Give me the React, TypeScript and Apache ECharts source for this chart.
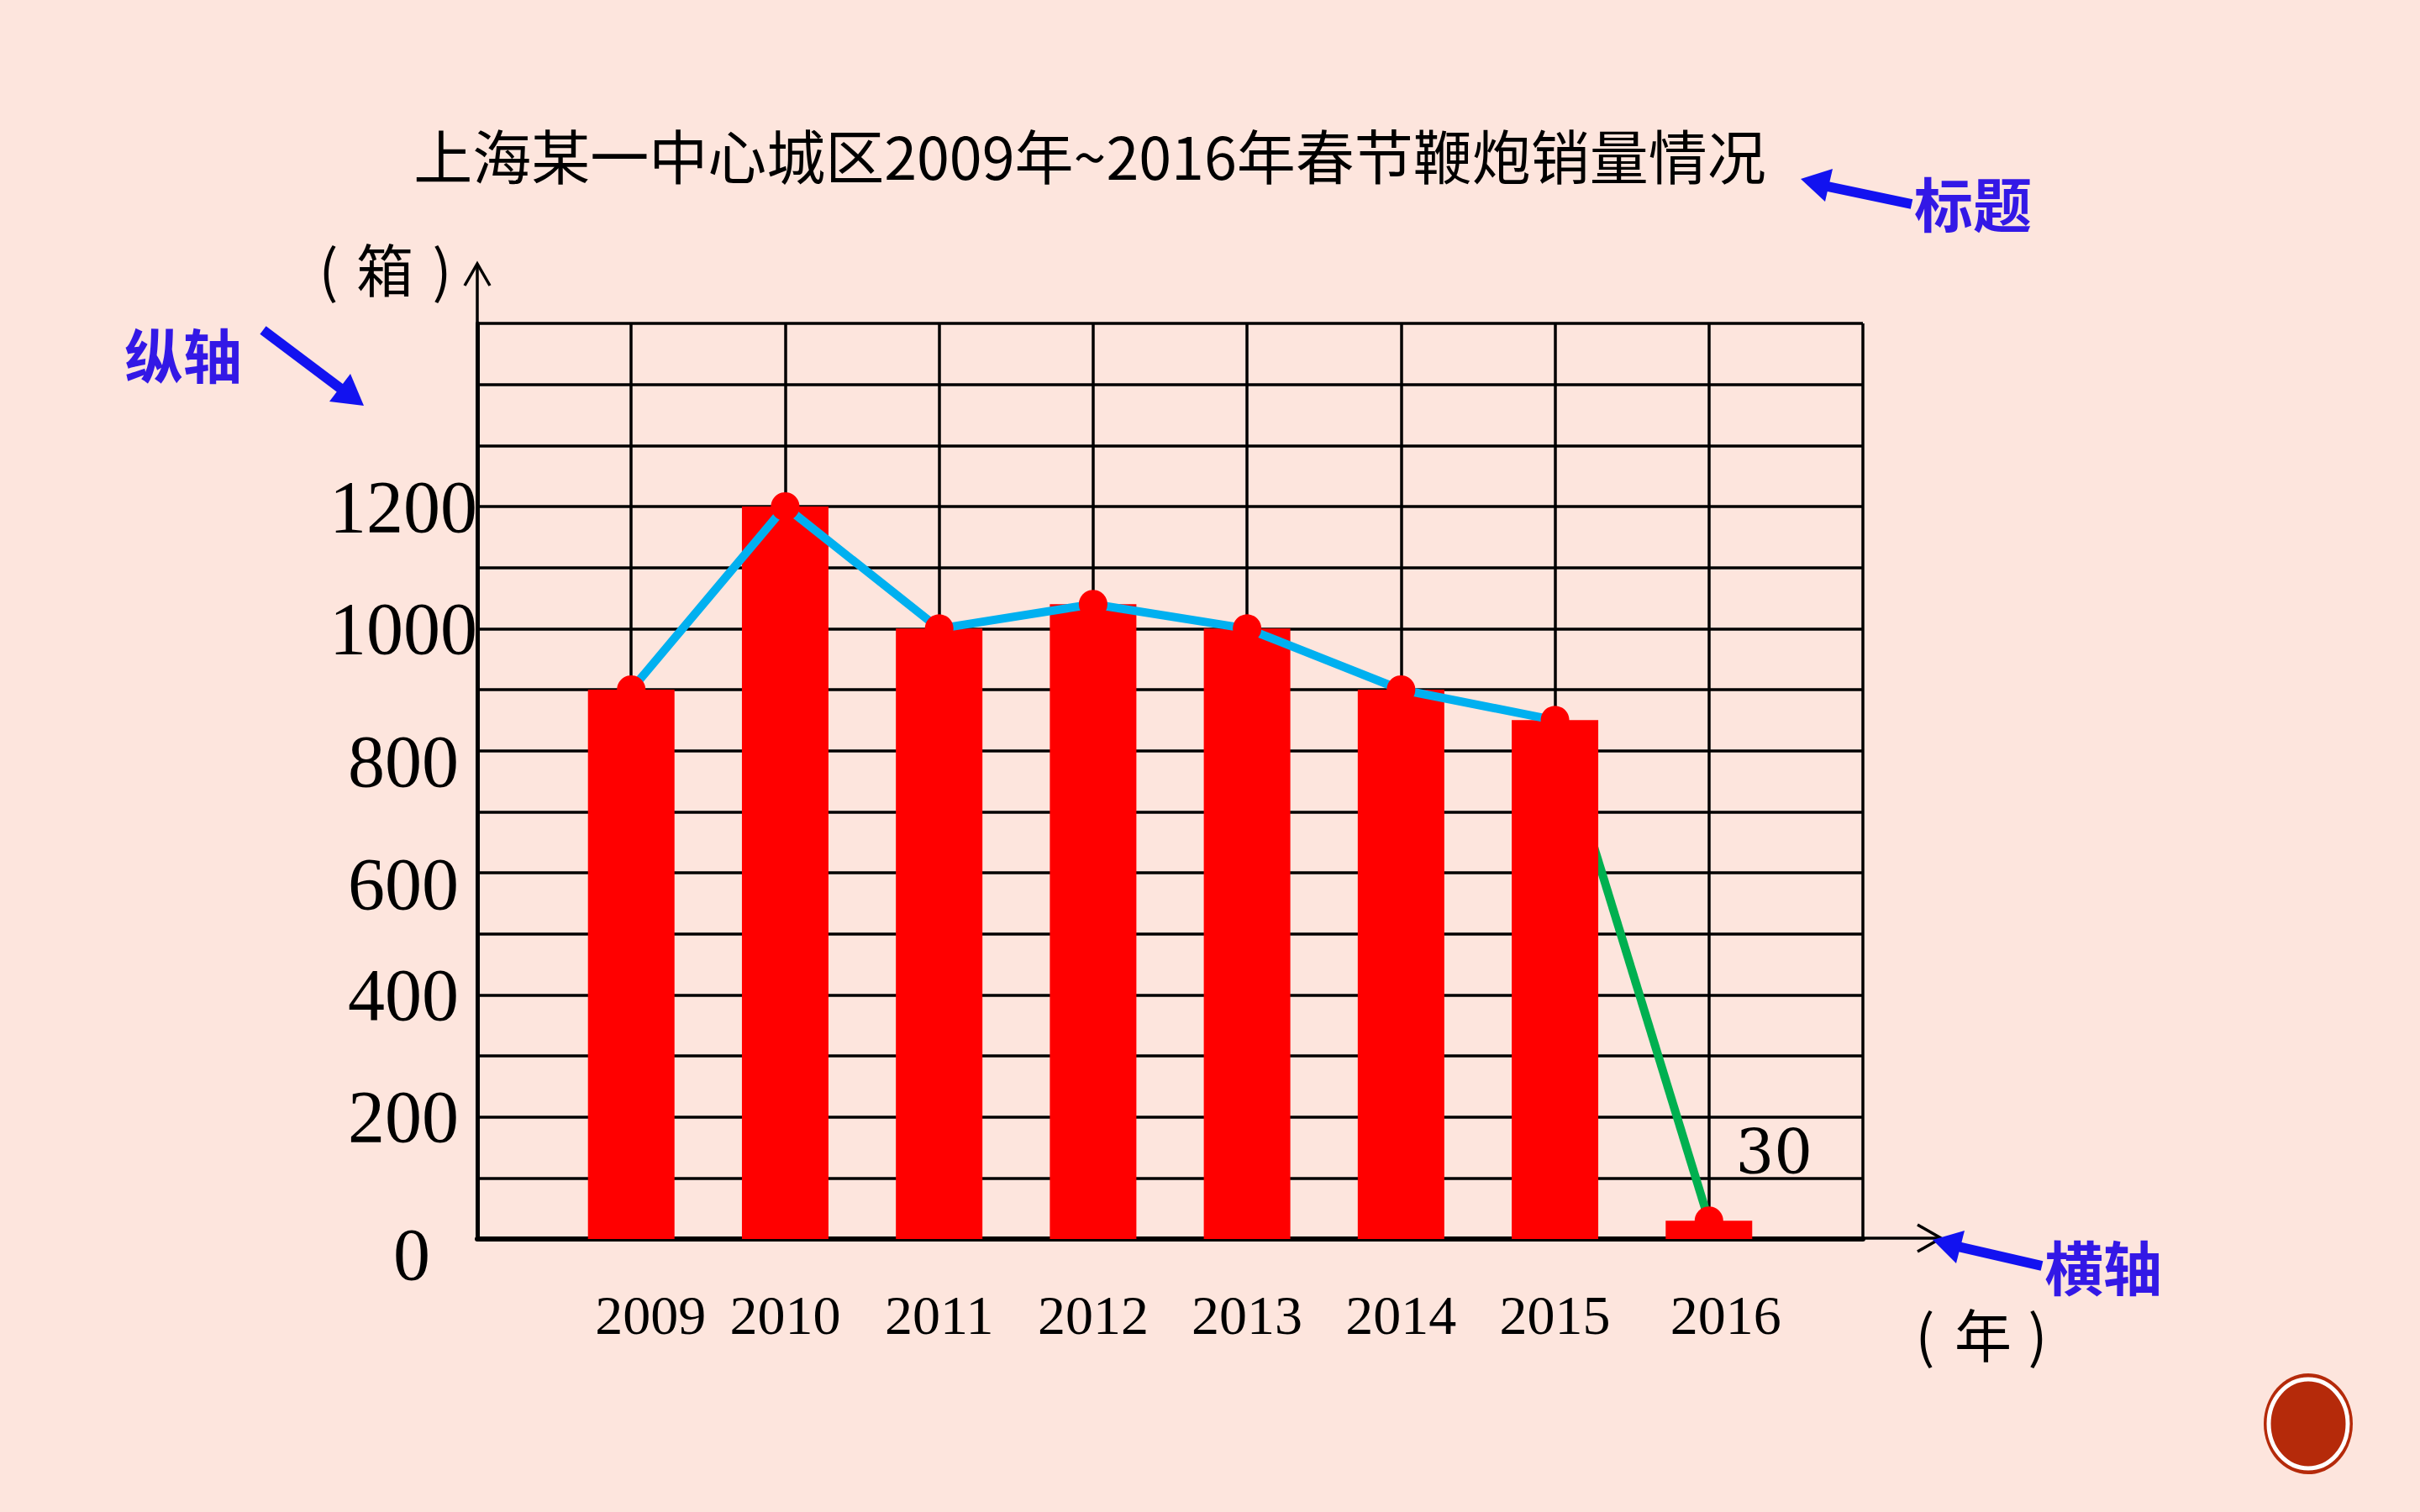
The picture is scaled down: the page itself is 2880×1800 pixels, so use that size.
import React, { useEffect, useRef } from "react";
import * as echarts from "echarts";

const categories = ["2009", "2010", "2011", "2012", "2013", "2014", "2015", "2016"];
const sales = [900, 1200, 1000, 1040, 1000, 900, 850, 30];
const yTickLabels = [0, 200, 400, 600, 800, 1000, 1200];
const yMax = 1500;
const yStep = 100;
const titleText = "上海某一中心城区2009年~2016年春节鞭炮销量情况";
const yUnit = "箱";
const xUnit = "年";

const BG = "#FDE5DD";
const ANN_TEXT = "#3318E6";
const ANN_ARROW = "#1212F0";

export default function App() {
  const ref = useRef<HTMLDivElement>(null);
  useEffect(() => {
    if (!ref.current) return;
    const chart = echarts.init(ref.current, null, { renderer: "svg" });
    const xData = ["", ...categories, ""];
    const barData: any[] = [null, ...sales.map((v, i) =>
      i === sales.length - 1
        ? {
            value: v,
            label: {
              show: true,
              position: [129, -81],
              align: "center",
              verticalAlign: "middle",
              formatter: "{c}",
              fontFamily: "DejaVu Serif",
              fontSize: 72,
              color: "#000",
            },
          }
        : v
    ), null];
    const blueData: any[] = [null, ...sales.slice(0, 7), null, null];
    const greenData: any[] = xData.map((_, i) => (i === 7 || i === 8 ? sales[i - 1] : null));
    const dotData = sales.map((v, i) => [i + 1, v]);

    const annText = (text: string, x: number, y: number) => ({
      type: "text",
      x,
      y,
      style: {
        text,
        fontFamily: "Noto Sans CJK SC",
        fontWeight: "bold",
        fontSize: 70,
        fill: ANN_TEXT,
        align: "left",
        verticalAlign: "middle",
      },
    });
    const unitText = (text: string, x: number, y: number) => ({
      type: "text",
      x,
      y,
      style: {
        text,
        fontFamily: "Noto Sans CJK SC",
        fontSize: 68,
        fill: "#000",
        align: "center",
        verticalAlign: "middle",
      },
    });
    const arrow = (x1: number, y1: number, x2: number, y2: number, head: number[][]) => [
      { type: "line", shape: { x1, y1, x2, y2 }, style: { stroke: ANN_ARROW, lineWidth: 12 } },
      { type: "polygon", shape: { points: head }, style: { fill: ANN_ARROW } },
    ];

    chart.setOption({
      animation: false,
      backgroundColor: BG,
      title: {
        text: titleText,
        left: 1292,
        top: 178,
        textAlign: "center",
        textVerticalAlign: "middle",
        textStyle: { fontFamily: "Noto Sans CJK SC", fontSize: 70, fontWeight: "normal", color: "#000" },
      },
      grid: { left: 568, top: 385, width: 1649, height: 1090 },
      xAxis: {
        type: "category",
        data: xData,
        boundaryGap: false,
        axisLine: { show: true, lineStyle: { color: "#000", width: 6 } },
        axisTick: { show: false },
        splitLine: { show: true, interval: 0, lineStyle: { color: "#000", width: 3.5 } },
        axisLabel: {
          interval: 0,
          margin: 90,
          verticalAlign: "middle",
          fontFamily: "Liberation Serif",
          fontSize: 66,
          color: "#000",
          formatter: (v: string) => {
            if (v === categories[0]) return "{l|" + v + "}";
            if (v === categories[categories.length - 1]) return "{r|" + v + "}";
            return v;
          },
          rich: {
            l: { fontFamily: "Liberation Serif", fontSize: 66, color: "#000", padding: [0, 0, 0, 46] },
            r: { fontFamily: "Liberation Serif", fontSize: 66, color: "#000", padding: [0, 0, 0, 40] },
          },
        },
      },
      yAxis: {
        type: "value",
        min: 0,
        max: yMax,
        interval: yStep,
        axisLine: { show: true, lineStyle: { color: "#000", width: 5 } },
        axisTick: { show: false },
        splitLine: { show: true, lineStyle: { color: "#000", width: 3.5 } },
        axisLabel: {
          margin: 88,
          align: "center",
          verticalAlign: "middle",
          fontFamily: "Liberation Serif",
          fontSize: 88,
          color: "#000",
          formatter: (v: number) => {
            if (!yTickLabels.includes(v)) return "";
            if (v === 0) return "{z|0}";
            if (v === 800 || v === 600) return "{d|" + v + "}";
            return String(v);
          },
          rich: {
            z: { fontFamily: "Liberation Serif", fontSize: 88, color: "#000", padding: [36, 0, 0, 20] },
            d: { fontFamily: "Liberation Serif", fontSize: 88, color: "#000", padding: [26, 0, 0, 0] },
          },
        },
      },
      series: [
        {
          type: "line",
          data: greenData,
          z: 1,
          symbol: "none",
          lineStyle: { color: "#00B050", width: 10 },
        },
        {
          type: "bar",
          data: barData,
          z: 2,
          barWidth: 103,
          itemStyle: { color: "#FF0000" },
        },
        {
          type: "line",
          data: blueData,
          z: 3,
          symbol: "none",
          lineStyle: { color: "#00B0F0", width: 10 },
        },
        {
          type: "scatter",
          data: dotData,
          z: 4,
          symbolSize: 34,
          itemStyle: { color: "#FF0000", opacity: 1 },
        },
      ],
      graphic: [
        { type: "line", shape: { x1: 568, y1: 385, x2: 568, y2: 314 }, style: { stroke: "#000", lineWidth: 3.5 } },
        { type: "polyline", shape: { points: [[553, 340], [568, 314], [583, 340]] }, style: { stroke: "#000", lineWidth: 3.5, fill: null } },
        { type: "line", shape: { x1: 2217, y1: 1474, x2: 2308, y2: 1474 }, style: { stroke: "#000", lineWidth: 3.5 } },
        { type: "polyline", shape: { points: [[2282, 1458], [2310, 1474], [2282, 1490]] }, style: { stroke: "#000", lineWidth: 3.5, fill: null } },
        unitText("(", 391, 318),
        unitText(yUnit, 458, 318),
        unitText(")", 526, 318),
        unitText("(", 2291, 1586),
        unitText(xUnit, 2360, 1586),
        unitText(")", 2425, 1586),
        annText("纵轴", 148, 420),
        ...arrow(313, 393, 410, 466, [[433, 483], [392, 478], [417, 445]]),
        annText("标题", 2278, 240),
        ...arrow(2275, 243, 2175, 222, [[2143, 213], [2181, 201], [2172, 240]]),
        annText("横轴", 2433, 1506),
        ...arrow(2430, 1507, 2330, 1484, [[2300, 1476], [2338, 1465], [2328, 1504]]),
        { type: "ellipse", shape: { cx: 2747, cy: 1695, rx: 53, ry: 60 }, style: { fill: "#B52A0A" } },
        { type: "ellipse", shape: { cx: 2747, cy: 1695, rx: 47, ry: 53 }, style: { fill: null, stroke: "#FFFFFF", lineWidth: 5 } },
      ],
    });
    return () => chart.dispose();
  }, []);
  return (
    <div
      ref={ref}
      style={{ position: "fixed", left: 0, top: 0, width: 2880, height: 1800 }}
    />
  );
}
